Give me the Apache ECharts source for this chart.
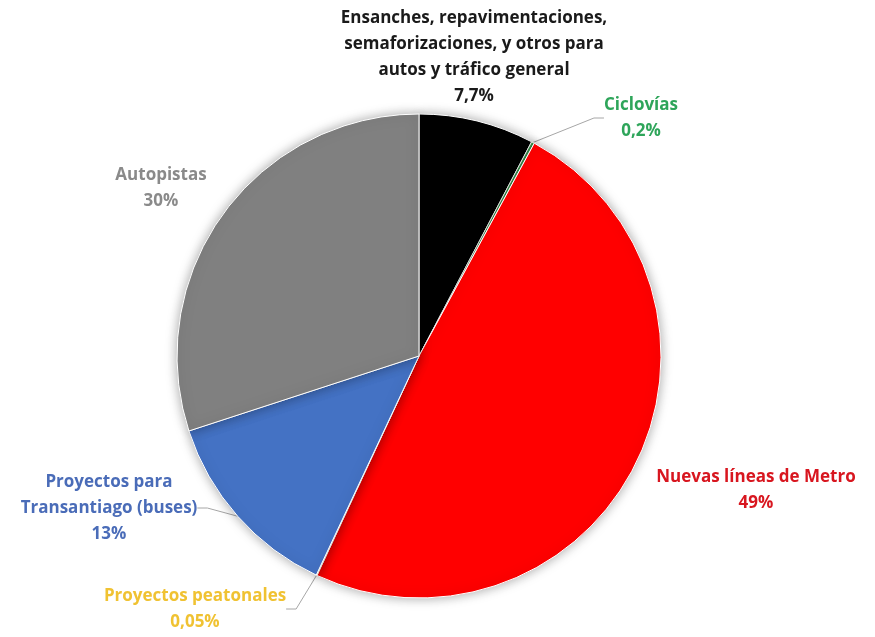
<!DOCTYPE html>
<html>
<head>
<meta charset="utf-8">
<script src="https://cdn.jsdelivr.net/npm/echarts@6/dist/echarts.min.js"></script>
<style>html,body{margin:0;padding:0;background:#fff;}#c{width:875px;height:637px;}</style>
</head>
<body>
<div id="c"></div>
<script>
var categories = [
  'Ensanches, repavimentaciones,\nsemaforizaciones, y otros para\nautos y tráfico general',
  'Ciclovías',
  'Nuevas líneas de Metro',
  'Proyectos peatonales',
  'Proyectos para\nTransantiago (buses)',
  'Autopistas'
];
var values = [7.7, 0.2, 49, 0.05, 13, 30];
var sliceColors = ['#000000', '#3a9a50', '#ff0000', '#ffc000', '#4472c4', '#808080'];
var textColors = ['#1a1a1a', '#2ea55a', '#d8161f', '#f0c232', '#4a6cb8', '#8a8a8a'];
var showLine = [false, true, false, true, true, false];
// label box centres (layout only)
var labelPos = [[474, 57], [641, 118], [756, 490], [195, 609], [109, 508], [161, 188]];

var chart = echarts.init(document.getElementById('c'));
var data = categories.map(function (n, i) {
  return {
    name: n,
    value: values[i],
    itemStyle: { color: sliceColors[i] },
    label: { color: textColors[i] },
    labelLine: { show: showLine[i] }
  };
});
chart.setOption({
  animation: false,
  series: [{
    type: 'pie',
    center: [419, 356],
    radius: 242,
    startAngle: 90,
    clockwise: true,
    avoidLabelOverlap: false,
    data: data,
    itemStyle: {
      borderColor: '#ffffff',
      borderWidth: 1,
      shadowBlur: 12,
      shadowColor: 'rgba(0,0,0,0.35)'
    },
    label: {
      show: true,
      position: 'outside',
      fontFamily: 'Open Sans',
      fontWeight: 'bold',
      fontSize: 17,
      lineHeight: 26,
      align: 'center',
      formatter: function (p) {
        return p.name + '\n' + String(p.value).replace('.', ',') + '%';
      }
    },
    labelLine: {
      show: true,
      length: 10,
      length2: 10,
      lineStyle: { color: '#a6a6a6', width: 1 }
    },
    labelLayout: function (params) {
      var p = labelPos[params.dataIndex];
      return { x: p[0], y: p[1], align: 'center', verticalAlign: 'middle' };
    }
  }]
});
</script>
</body>
</html>
